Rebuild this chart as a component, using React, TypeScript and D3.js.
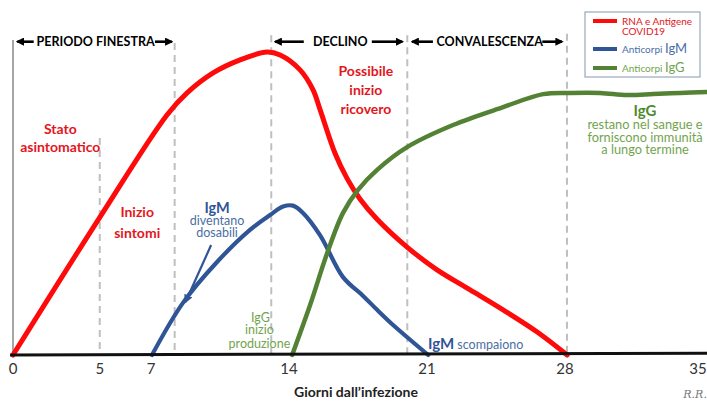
import React from "react";
import * as d3 from "d3";

// ---- data (days since infection, relative level 0-100) ----
const redDays = [0, 4.41, 7.81, 8.83, 10.15, 11.52, 12.89, 13.55, 14.56, 15.22, 15.58, 16.34, 16.95, 17.6, 18.47, 19.99, 21.51, 23.19, 24.86, 26.59, 28.11];
const redValues = [0, 45.5, 79.2, 86.5, 93.1, 97.4, 100, 99, 94.1, 87.5, 80.9, 66.5, 58.2, 51.5, 44.8, 35.6, 28.1, 21.5, 14.9, 7.6, 0];

const igmDays = [7.05, 8.62, 10.35, 12.02, 13.04, 13.7, 14.2, 14.71, 15.58, 16.74, 17.76, 18.47, 19.28, 21.06];
const igmValues = [0, 17.2, 30.7, 41.3, 46.2, 49.0, 49.3, 46.9, 39.5, 25.7, 19.5, 14.9, 9.9, 0];

const iggDays = [14.16, 15.07, 15.93, 16.74, 17.5, 18.47, 19.99, 22.32, 24.86, 26.89, 28.26, 29.78, 31.15, 32.47, 33.84, 35.21];
const iggValues = [0, 16.5, 33.5, 46.9, 54.5, 61.1, 68.6, 75.9, 81.8, 86.1, 86.5, 86.5, 85.8, 86.1, 86.5, 86.8];

const tickDays = [0, 4.4, 7, 14, 21, 28, 35];
const tickLabels = ["0", "5", "7", "14", "21", "28", "35"];

const markerDays = [4.4, 8.2, 13.1, 20, 28.1];
const markerTops = [71.6, 103, 105.5, 105.5, 106];

const phaseLabels = ["PERIODO FINESTRA", "DECLINO", "CONVALESCENZA"];
const phaseCenters = [4.19, 16.6, 24.18];
const phaseLeftArrows = [[0.22, 1.05], [13.3, 14.75], [20.25, 21.3]];
const phaseRightArrows = [[7.2, 8.05], [18.2, 19.75], [26.85, 27.85]];

const legendLabels = [["RNA e Antigene", "COVID19"], ["Anticorpi ", "IgM"], ["Anticorpi ", "IgG"]];

const RED = "#ff0a0a";
const BLUE = "#2f5597";
const GREEN = "#548235";
const RED_T = "#e3161d";
const BLUE_T = "#2f5597";
const BLUE_L = "#4a6fa5";
const GREEN_T = "#4f8a2c";
const GREEN_L = "#72a44e";

const W = 707;
const H = 404;

export default function App() {
  const x = d3.scaleLinear().domain([0, 35]).range([13, 703]);
  const y = d3.scaleLinear().domain([0, 100]).range([355, 52]);

  const line = d3
    .line<[number, number]>()
    .x((d) => x(d[0]))
    .y((d) => y(d[1]))
    .curve(d3.curveCatmullRom.alpha(0.5));

  const redPath = line(redDays.map((d, i) => [d, redValues[i]]) as [number, number][]) || "";
  const igmPath = line(igmDays.map((d, i) => [d, igmValues[i]]) as [number, number][]) || "";
  const iggPath = line(iggDays.map((d, i) => [d, iggValues[i]]) as [number, number][]) || "";

  const font = "Lato, 'Open Sans', sans-serif";
  const headerY = y(103.4);

  return (
    <svg
      width={W}
      height={H}
      viewBox={`0 0 ${W} ${H}`}
      style={{ position: "absolute", left: 0, top: 0, background: "#fff" }}
      fontFamily={font}
    >
      <defs>
        <marker id="ah" viewBox="0 0 10 10" refX="8" refY="5" markerWidth="3.2" markerHeight="3.2" orient="auto">
          <path d="M0,0 L10,5 L0,10 z" fill="#000" />
        </marker>
        <marker id="ahb" viewBox="0 0 10 10" refX="8" refY="5" markerWidth="4" markerHeight="4" orient="auto">
          <path d="M0,0 L10,5 L0,10 z" fill={BLUE} />
        </marker>
      </defs>
      <rect x={0} y={0} width={W} height={H} fill="#fff" />

      {/* left solid line */}
      <line x1={x(0)} x2={x(0)} y1={y(104)} y2={y(0)} stroke="#a6a6a6" strokeWidth={2} />

      {/* dashed markers */}
      {markerDays.map((d, i) => (
        <line
          key={i}
          x1={x(d)}
          x2={x(d)}
          y1={y(markerTops[i])}
          y2={y(0)}
          stroke="#bfbfbf"
          strokeWidth={2}
          strokeDasharray="7,5"
        />
      ))}

      {/* phase headers */}
      {phaseLabels.map((lab, i) => (
        <g key={lab}>
          <line
            x1={x(phaseLeftArrows[i][1])}
            x2={x(phaseLeftArrows[i][0])}
            y1={headerY}
            y2={headerY}
            stroke="#000"
            strokeWidth={2.6}
            markerEnd="url(#ah)"
          />
          <text x={x(phaseCenters[i])} y={headerY + 4.5} textAnchor="middle" fontWeight="bold" fontSize={12.5} fill="#000">
            {lab}
          </text>
          <line
            x1={x(phaseRightArrows[i][0])}
            x2={x(phaseRightArrows[i][1])}
            y1={headerY}
            y2={headerY}
            stroke="#000"
            strokeWidth={2.6}
            markerEnd="url(#ah)"
          />
        </g>
      ))}

      {/* curves */}
      <path d={redPath} fill="none" stroke={RED} strokeWidth={5} strokeLinejoin="round" strokeLinecap="round" />
      <path d={igmPath} fill="none" stroke={BLUE} strokeWidth={4.2} strokeLinejoin="round" strokeLinecap="round" />
      <path d={iggPath} fill="none" stroke={GREEN} strokeWidth={4.5} strokeLinejoin="round" strokeLinecap="round" />

      {/* baseline axis */}
      <line x1={x(-0.15)} x2={W} y1={y(0)} y2={y(0.6)} stroke="#111" strokeWidth={3} />

      {/* tick labels */}
      {tickDays.map((d, i) => (
        <text
          key={i}
          x={x(d)}
          dx={i === tickDays.length - 1 ? -5 : 0}
          y={y(0) + 19}
          textAnchor="middle"
          fontSize={15}
          fill="#333"
        >
          {tickLabels[i]}
        </text>
      ))}
      <text x={x(17.4)} y={397} textAnchor="middle" fontSize={14} fontWeight="bold" fill="#222">
        Giorni dall’infezione
      </text>
      <text x={x(34.6)} y={398} textAnchor="middle" fontSize={11} fontStyle="italic" fontFamily="'DejaVu Serif', serif" fill="#777">
        R.R.
      </text>

      {/* red annotations */}
      <g fill={RED_T} fontWeight="bold" fontSize={14} textAnchor="middle">
        <text x={x(2.4)} y={y(72.9)}>Stato</text>
        <text x={x(2.4)} y={y(66.9)}>asintomatico</text>
        <text x={x(6.3)} y={y(45.5)}>Inizio</text>
        <text x={x(6.3)} y={y(38.6)}>sintomi</text>
        <text x={x(17.9)} y={y(92.1)}>Possibile</text>
        <text x={x(17.9)} y={y(85.8)}>inizio</text>
        <text x={x(17.9)} y={y(79.5)}>ricovero</text>
      </g>

      {/* IgM annotation */}
      <text x={x(10.35)} y={y(46.9)} textAnchor="middle" fontWeight="bold" fontSize={14.5} fill={BLUE_T}>IgM</text>
      <text x={x(10.35)} y={y(42.9)} textAnchor="middle" fontSize={12.5} fill={BLUE_L}>diventano</text>
      <text x={x(10.35)} y={y(38.9)} textAnchor="middle" fontSize={12.5} fill={BLUE_L}>dosabili</text>
      <line x1={x(10.05)} y1={y(36.3)} x2={x(8.75)} y2={y(17.5)} stroke={BLUE} strokeWidth={2.2} markerEnd="url(#ahb)" />

      {/* IgG start annotation */}
      <g fill={GREEN_L} fontSize={12.5} textAnchor="middle">
        <text x={x(12.55)} y={y(10.9)}>IgG</text>
        <text x={x(12.5)} y={y(6.9)}>inizio</text>
        <text x={x(12.5)} y={y(2.3)}>produzione</text>
      </g>

      {/* IgM disappear */}
      <text x={x(21.05)} y={y(2.0)} fill={BLUE_T}>
        <tspan fontWeight="bold" fontSize={15}>IgM</tspan>
        <tspan fontSize={12.5} fill={BLUE_L}> scompaiono</tspan>
      </text>

      {/* IgG long-term */}
      <text x={x(32.06)} y={y(78.9)} textAnchor="middle" fontWeight="bold" fontSize={15} fill={GREEN_T}>IgG</text>
      <g fill={GREEN_L} fontSize={12.8} textAnchor="middle">
        <text x={x(32.06)} y={y(74.6)}>restano nel sangue e</text>
        <text x={x(32.06)} y={y(70.3)}>forniscono immunità</text>
        <text x={x(32.06)} y={y(66.3)}>a lungo termine</text>
      </g>

      {/* legend */}
      <g>
        <rect x={585} y={12} width={115} height={65} fill="#fff" stroke="#8497b0" strokeWidth={1} />
        <line x1={593} x2={617} y1={21} y2={21} stroke={RED} strokeWidth={4} />
        <text x={622} y={24.5} fontSize={10} fill={RED_T}>{legendLabels[0][0]}</text>
        <text x={622} y={35} fontSize={10} fill={RED_T}>{legendLabels[0][1]}</text>
        <line x1={593} x2={617} y1={49} y2={49} stroke={BLUE} strokeWidth={4} />
        <text x={622} y={52.5} fontSize={10} fill={BLUE_L}>
          {legendLabels[1][0]}
          <tspan fontSize={13}>{legendLabels[1][1]}</tspan>
        </text>
        <line x1={593} x2={617} y1={68} y2={68} stroke={GREEN} strokeWidth={4} />
        <text x={622} y={71.5} fontSize={10} fill={GREEN_L}>
          {legendLabels[2][0]}
          <tspan fontSize={13}>{legendLabels[2][1]}</tspan>
        </text>
      </g>
    </svg>
  );
}
